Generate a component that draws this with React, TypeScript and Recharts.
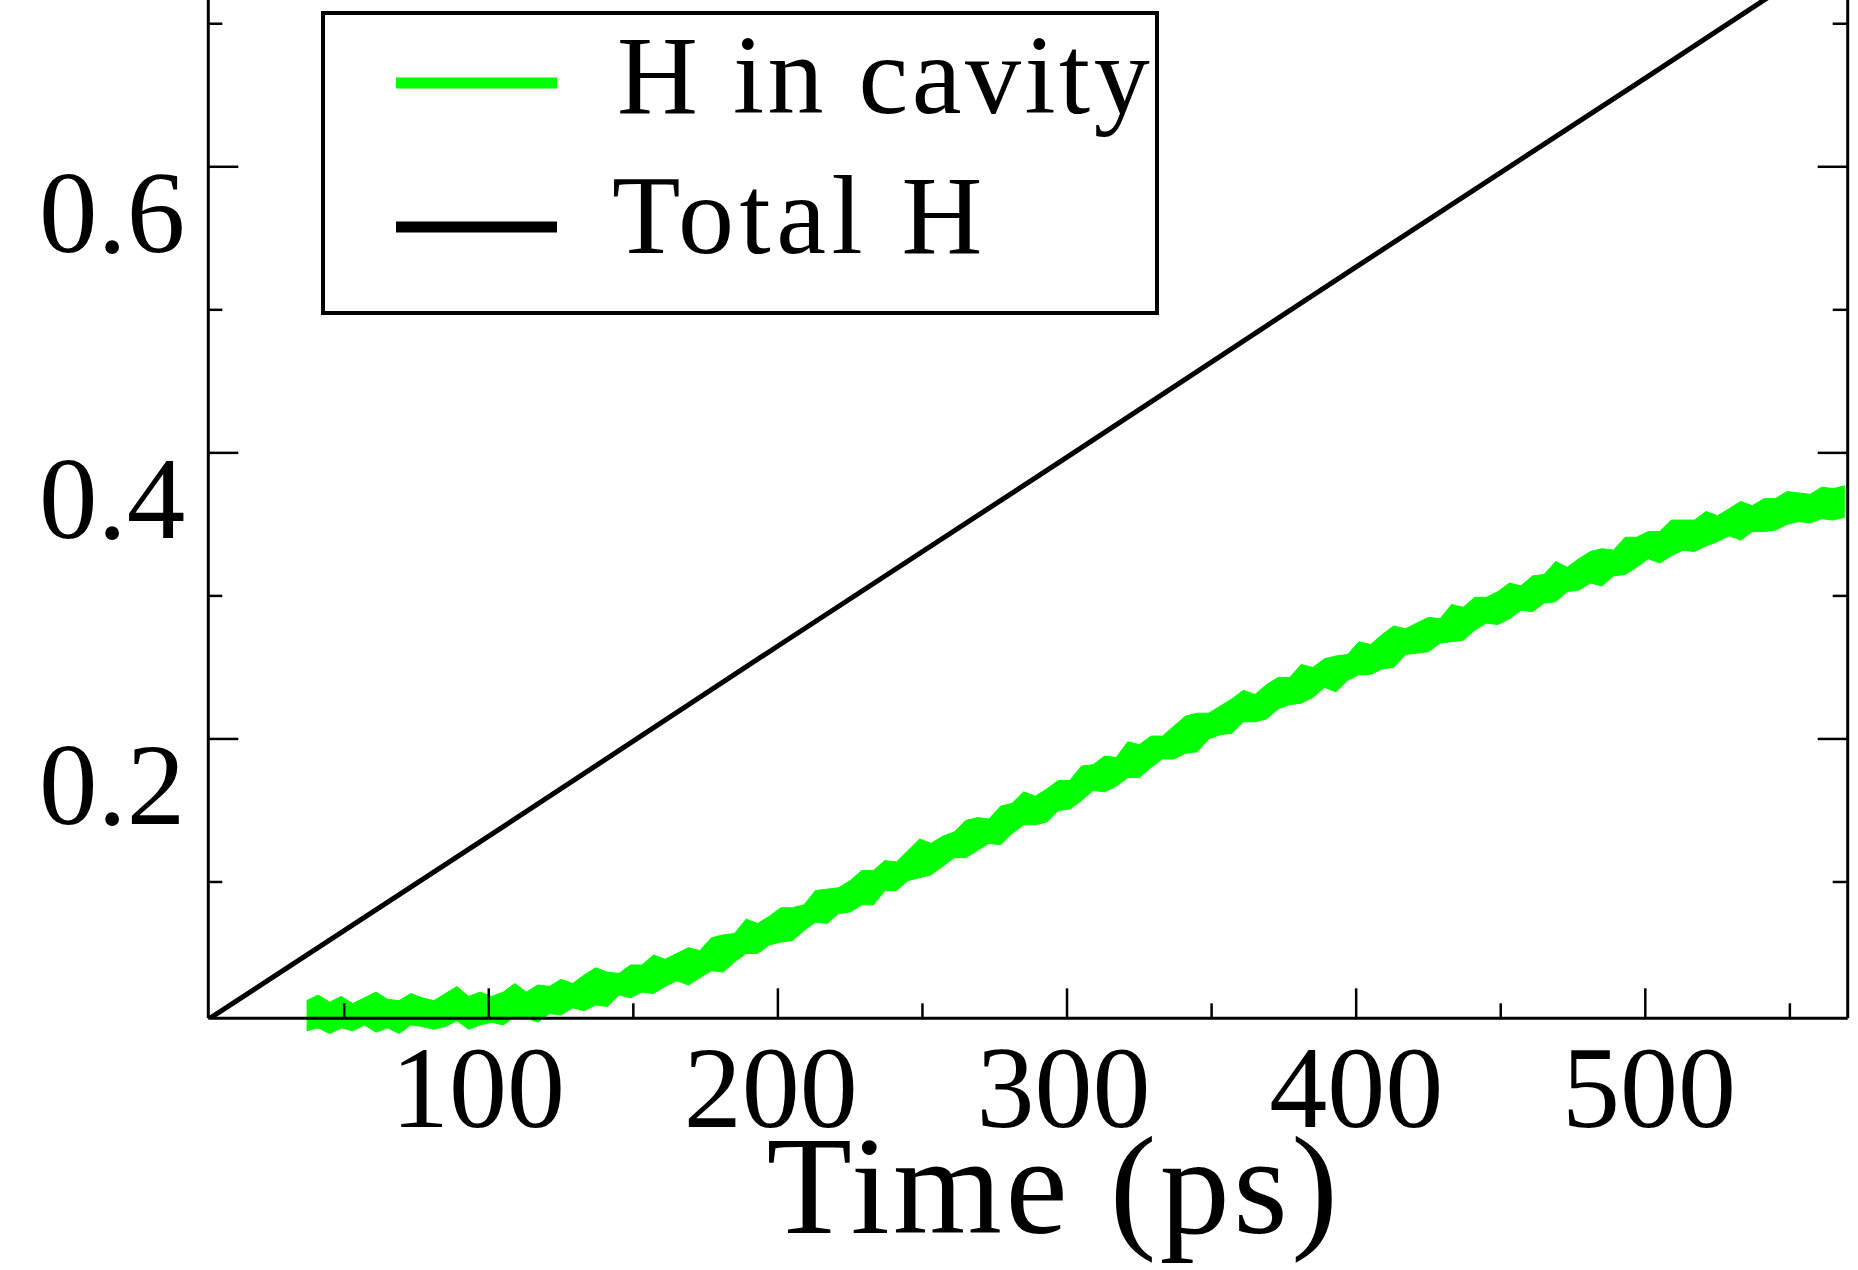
import { ComposedChart, Area, Line, XAxis, YAxis, Legend } from "recharts";

// total H (black straight line), read at a few times
const totalTime = [3, 100, 200, 300, 400, 500, 570];
const totalH = [0.004, 0.132, 0.265, 0.397, 0.53, 0.662, 0.755];

// H in cavity: noisy band, sampled every 4 ps from 37 ps (lower / upper edge)
const cavityStart = 37;
const cavityStep = 4;
const cavityHigh = [
  0.017, 0.021, 0.016, 0.02, 0.015, 0.019, 0.023, 0.018, 0.017, 0.022,
  0.019, 0.017, 0.022, 0.027, 0.02, 0.023, 0.02, 0.023, 0.029, 0.023,
  0.028, 0.027, 0.032, 0.029, 0.035, 0.04, 0.037, 0.036, 0.042, 0.042,
  0.049, 0.046, 0.05, 0.054, 0.052, 0.061, 0.063, 0.064, 0.074, 0.071,
  0.076, 0.082, 0.082, 0.084, 0.094, 0.095, 0.096, 0.101, 0.108, 0.108,
  0.115, 0.114, 0.122, 0.13, 0.127, 0.132, 0.135, 0.143, 0.145, 0.144,
  0.153, 0.155, 0.163, 0.16, 0.165, 0.171, 0.171, 0.181, 0.182, 0.188,
  0.187, 0.198, 0.196, 0.202, 0.202, 0.209, 0.216, 0.218, 0.218, 0.223,
  0.228, 0.234, 0.231, 0.238, 0.243, 0.243, 0.252, 0.25, 0.256, 0.258,
  0.259, 0.268, 0.266, 0.273, 0.279, 0.277, 0.281, 0.285, 0.284, 0.294,
  0.292, 0.299, 0.299, 0.303, 0.309, 0.307, 0.314, 0.315, 0.324, 0.32,
  0.326, 0.331, 0.333, 0.332, 0.341, 0.341, 0.345, 0.345, 0.353, 0.353,
  0.353, 0.359, 0.356, 0.361, 0.366, 0.363, 0.368, 0.368, 0.373, 0.372,
  0.371, 0.376, 0.375, 0.377,
];
const cavityLow = [
  -0.004, -0.002, -0.006, -0.002, -0.004, 0.0, -0.005, -0.002, -0.006, 0.0,
  -0.001, -0.003, -0.001, 0.003, -0.003, 0.0, 0.002, 0.0, 0.006, 0.005,
  0.002, 0.008, 0.007, 0.012, 0.01, 0.014, 0.013, 0.021, 0.019, 0.023,
  0.022, 0.027, 0.031, 0.028, 0.033, 0.038, 0.037, 0.044, 0.05, 0.05,
  0.056, 0.058, 0.059, 0.066, 0.072, 0.071, 0.078, 0.079, 0.084, 0.084,
  0.094, 0.094, 0.101, 0.103, 0.105, 0.111, 0.117, 0.117, 0.122, 0.127,
  0.126, 0.134, 0.14, 0.14, 0.142, 0.15, 0.151, 0.157, 0.164, 0.163,
  0.167, 0.173, 0.173, 0.18, 0.186, 0.186, 0.19, 0.191, 0.2, 0.203,
  0.204, 0.212, 0.212, 0.214, 0.221, 0.224, 0.225, 0.229, 0.236, 0.233,
  0.241, 0.245, 0.245, 0.249, 0.25, 0.259, 0.26, 0.261, 0.267, 0.268,
  0.269, 0.276, 0.281, 0.28, 0.284, 0.29, 0.289, 0.295, 0.296, 0.303,
  0.304, 0.309, 0.307, 0.314, 0.315, 0.32, 0.326, 0.323, 0.328, 0.332,
  0.331, 0.335, 0.338, 0.342, 0.339, 0.345, 0.345, 0.346, 0.35, 0.352,
  0.351, 0.354, 0.353, 0.355,
];

const xTicks = [50, 100, 150, 200, 250, 300, 350, 400, 450, 500, 550];
const yTicks = [0.1, 0.2, 0.3, 0.4, 0.5, 0.6, 0.7];

const totalData = totalTime.map((t, i) => ({ t, v: totalH[i] }));
const cavityData = cavityHigh.map((hi, i) => ({
  t: cavityStart + i * cavityStep,
  band: [cavityLow[i], hi],
}));

const FONT = "'Liberation Serif', 'Times New Roman', serif";

function XTick({ x, y, payload }: any) {
  const v = payload.value;
  const major = v % 100 === 0;
  return (
    <g>
      <line x1={x} x2={x} y1={y} y2={y - (major ? 30 : 15)} stroke="#000" strokeWidth={2.5} />
      {major && (
        <text
          x={x + (v - 400) * 0.036}
          y={y + 109}
          textAnchor="middle"
          fontFamily={FONT}
          fontSize={116}
          fill="#000"
        >
          {v}
        </text>
      )}
    </g>
  );
}

function YTickLeft({ x, y, payload }: any) {
  const v = payload.value;
  const major = Math.round(v * 10) % 2 === 0;
  return (
    <g>
      <line x1={x} x2={x + (major ? 30 : 14)} y1={y} y2={y} stroke="#000" strokeWidth={2.5} />
      {major && (
        <text x={x - 23} y={y + 85} textAnchor="end" fontFamily={FONT} fontSize={117} fill="#000">
          {v.toFixed(1)}
        </text>
      )}
    </g>
  );
}

function YTickRight({ x, y, payload }: any) {
  const major = Math.round(payload.value * 10) % 2 === 0;
  return <line x1={x} x2={x - (major ? 30 : 15)} y1={y} y2={y} stroke="#000" strokeWidth={2.5} />;
}

const legendSpacing = [3.5, 5.5];

function LegendBox({ payload }: any) {
  const items = payload ?? [];
  return (
    <svg width={838} height={304} style={{ display: "block" }}>
      <rect x={2} y={2} width={834} height={300} fill="#fff" stroke="#000" strokeWidth={4} />
      {items.map((it: any, i: number) => (
        <g key={it.value}>
          <line x1={75} x2={236} y1={72 + i * 144} y2={72 + i * 144} stroke={it.color} strokeWidth={11} />
          <text
            x={296 - i * 5}
            y={102 + i * 140}
            fontFamily={FONT}
            fontSize={112}
            letterSpacing={legendSpacing[i] ?? 3}
            fill="#000"
          >
            {it.value}
          </text>
        </g>
      ))}
    </svg>
  );
}

function renderTitle(props: any) {
  const vb = props.viewBox;
  return (
    <text
      x={vb.x + vb.width / 2 + 26}
      y={vb.y + 215}
      textAnchor="middle"
      fontFamily={FONT}
      fontSize={140}
      letterSpacing={3.5}
      fill="#000"
    >
      Time (ps)
    </text>
  );
}

export default function App() {
  return (
    <div style={{ position: "absolute", left: 0, top: 0, width: 1858, height: 1270, background: "#fff" }}>
      <style>{".noclip [clip-path] { clip-path: none !important; }"}</style>
      <ComposedChart width={1858} height={1270} margin={{ top: 0, right: 0, bottom: 0, left: 0 }}>
        <XAxis
          dataKey="t"
          type="number"
          domain={[3, 570]}
          allowDataOverflow
          ticks={xTicks}
          interval={0}
          tickSize={0}
          tickMargin={0}
          tickLine={false}
          tick={<XTick />}
          height={251.7}
          axisLine={{ stroke: "#000", strokeWidth: 3 }}
          label={renderTitle}
        />
        <YAxis
          yAxisId="left"
          type="number"
          domain={[0.0047, 0.7166]}
          allowDataOverflow
          ticks={yTicks}
          interval={0}
          tickSize={0}
          tickMargin={0}
          tickLine={false}
          tick={<YTickLeft />}
          width={208.3}
          axisLine={{ stroke: "#000", strokeWidth: 3 }}
        />
        <YAxis
          yAxisId="right"
          orientation="right"
          type="number"
          domain={[0.0047, 0.7166]}
          allowDataOverflow
          ticks={yTicks}
          interval={0}
          tickSize={0}
          tickMargin={0}
          tickLine={false}
          tick={<YTickRight />}
          width={10.3}
          axisLine={{ stroke: "#000", strokeWidth: 3 }}
        />
        <Area
          className="noclip"
          yAxisId="left"
          data={cavityData}
          dataKey="band"
          name="H in cavity"
          type="linear"
          stroke="#00ff00"
          strokeWidth={1}
          fill="#00ff00"
          fillOpacity={1}
          dot={false}
          activeDot={false}
          isAnimationActive={false}
        />
        <Line
          yAxisId="left"
          data={totalData}
          dataKey="v"
          name="Total H"
          type="linear"
          stroke="#000"
          strokeWidth={5}
          dot={false}
          activeDot={false}
          isAnimationActive={false}
        />
        <Legend
          layout="vertical"
          align="center"
          verticalAlign="middle"
          content={<LegendBox />}
          wrapperStyle={{ left: 321, top: 11, width: 838, height: 304 }}
        />
      </ComposedChart>
    </div>
  );
}
